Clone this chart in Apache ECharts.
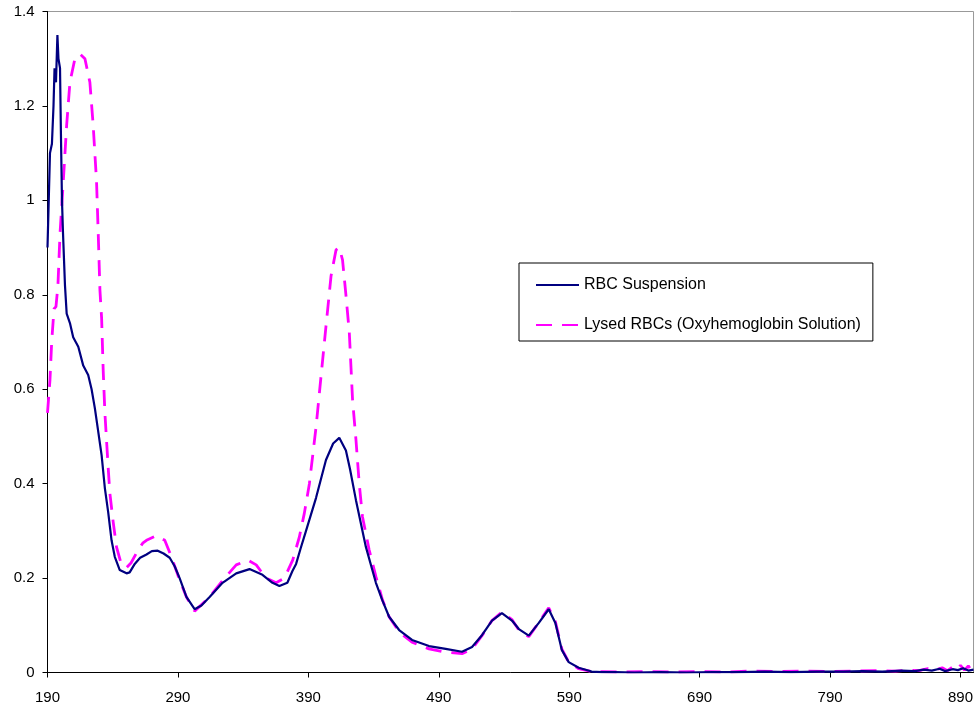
<!DOCTYPE html>
<html>
<head>
<meta charset="utf-8">
<script src="https://cdn.jsdelivr.net/npm/echarts@6/dist/echarts.min.js"></script>
<style>html,body{margin:0;padding:0;background:#fff;}#chart{width:976px;height:709px;}</style>
</head>
<body>
<div id="chart"></div>
<script>
var seriesNames = ["RBC Suspension", "Lysed RBCs (Oxyhemoglobin Solution)"];

var rbcX = [190,191.9,193.4,194.6,195.4,196.5,197.6,198.4,199.6,200.3,201.1,201.9,203.4,204.7,207.2,209.7,213.6,217.4,221.2,223.8,226.3,228.9,231.5,234.0,236.5,239.1,241.6,245.4,250.6,253,256.9,261,265.9,270,274.5,279,283.7,287.5,291.3,296.5,302.8,308,314.3,324.2,334.7,344.9,354.8,362.5,367.8,373.9,377.8,380.6,384,388.2,395.9,403.5,409,413.7,418.8,422,426.5,434.1,441.8,446.6,451.9,459.6,469.5,482.5,495.3,507.8,515.5,523.1,530.8,538.4,546.1,551.4,559.0,566.7,574.3,579.4,584.3,589.6,597.3,607.2,615,625,640,660,680,700,720,740,760,780,800,815,830,845,855,862,868,874,878,884,888,892,896,900];
var rbcY = [0.90,1.10,1.12,1.20,1.28,1.25,1.35,1.30,1.28,1.14,1.00,0.93,0.82,0.76,0.74,0.71,0.69,0.65,0.63,0.60,0.56,0.51,0.46,0.39,0.34,0.28,0.245,0.217,0.21,0.212,0.23,0.243,0.25,0.257,0.258,0.252,0.243,0.225,0.20,0.16,0.134,0.142,0.16,0.19,0.21,0.219,0.207,0.19,0.183,0.19,0.215,0.23,0.262,0.30,0.37,0.45,0.485,0.497,0.47,0.43,0.365,0.266,0.19,0.154,0.118,0.09,0.069,0.056,0.05,0.044,0.054,0.079,0.11,0.126,0.11,0.092,0.078,0.105,0.134,0.105,0.048,0.022,0.01,0.002,0.001,0.001,0.0,0.001,0.0,0.001,0.001,0.002,0.001,0.002,0.002,0.003,0.002,0.004,0.003,0.006,0.004,0.008,0.003,0.007,0.005,0.009,0.004,0.006];

var lysedX = [190,191.9,193.2,195.0,196.5,198.0,199.6,202.1,204.7,207.2,211.0,214.9,218.7,222.5,225.0,227.6,228.9,230.2,231.5,232.7,234.0,235.3,236.5,237.8,240.3,242.9,246.7,250.8,254,258.2,263.0,265.9,273.5,279.9,285.0,291.3,296.5,302.8,314.3,325.8,334.7,343.6,350.0,357.6,365.3,371.6,378.0,383.1,386.9,390.8,395.9,399.7,403.5,407.4,411.2,413.7,416.2,418.8,421.4,423.9,426.5,429.0,431.5,436.6,441.8,446.8,451.9,459.6,469.5,482.5,495.3,507.8,515.5,523.1,530.8,538.4,546.1,551.4,559.0,566.7,574.3,579.4,584.3,589.6,597.3,607.2,615,630,650,670,690,710,730,750,770,790,810,825,840,850,858,865,870,876,880,884,887,890,893,896,898,900];
var lysedY = [0.55,0.62,0.70,0.77,0.775,0.82,0.93,1.04,1.16,1.25,1.30,1.31,1.30,1.25,1.16,1.04,0.93,0.81,0.75,0.64,0.55,0.49,0.435,0.38,0.32,0.266,0.228,0.223,0.232,0.253,0.274,0.28,0.29,0.28,0.245,0.196,0.16,0.13,0.16,0.2,0.228,0.238,0.228,0.2,0.19,0.2,0.238,0.287,0.337,0.40,0.52,0.627,0.733,0.84,0.895,0.90,0.874,0.80,0.72,0.577,0.493,0.40,0.33,0.26,0.203,0.154,0.118,0.086,0.064,0.05,0.043,0.04,0.05,0.078,0.11,0.128,0.112,0.09,0.076,0.106,0.137,0.108,0.05,0.022,0.008,0.002,0.002,0.001,0.002,0.001,0.002,0.001,0.003,0.002,0.003,0.002,0.003,0.004,0.003,0.005,0.004,0.008,0.005,0.01,0.004,0.012,0.006,0.015,0.005,0.014,0.006,0.004];

function zip(xs, ys) { return xs.map(function (x, i) { return [x, ys[i]]; }); }

var chart = echarts.init(document.getElementById('chart'), null, {renderer: 'canvas'});
var FONT = '"Liberation Sans", Arial, sans-serif';
chart.setOption({
  animation: false,
  backgroundColor: '#ffffff',
  grid: {left: 47.5, right: 1, top: 11.5, bottom: 36.5, show: true, borderColor: '#999999', borderWidth: 1},
  legend: {
    orient: 'vertical', left: 519, top: 263,
    data: seriesNames,
    itemWidth: 43, itemHeight: 14, itemGap: 24,
    padding: [14, 12, 8, 16],
    itemStyle: {opacity: 0},
    borderColor: '#000000', borderWidth: 1, backgroundColor: '#ffffff',
    textStyle: {fontFamily: FONT, fontSize: 16, color: '#000000'}
  },
  xAxis: {
    type: 'value', min: 190, max: 900, interval: 100,
    axisLine: {show: true, onZero: true, lineStyle: {color: '#000000', width: 1}},
    axisTick: {show: true, inside: false, length: 5, lineStyle: {color: '#000000'}},
    axisLabel: {showMaxLabel: false, margin: 18, color: '#000000', fontFamily: FONT, fontSize: 15},
    splitLine: {show: false}
  },
  yAxis: {
    type: 'value', min: 0, max: 1.4, interval: 0.2,
    axisLine: {show: true, lineStyle: {color: '#000000', width: 1}},
    axisTick: {show: true, inside: false, length: 5, lineStyle: {color: '#000000'}},
    axisLabel: {margin: 13, color: '#000000', fontFamily: FONT, fontSize: 15},
    splitLine: {show: false}
  },
  series: [
    {name: seriesNames[0], type: 'line', data: zip(rbcX, rbcY), showSymbol: false, symbol: 'none',
     lineStyle: {color: '#000080', width: 2.2}, itemStyle: {color: '#000080'}, z: 3},
    {name: seriesNames[1], type: 'line', data: zip(lysedX, lysedY), showSymbol: false, symbol: 'none',
     lineStyle: {color: '#FF00FF', width: 2.8, type: [16, 10]}, itemStyle: {color: '#FF00FF'}, z: 2}
  ]
});
</script>
</body>
</html>
